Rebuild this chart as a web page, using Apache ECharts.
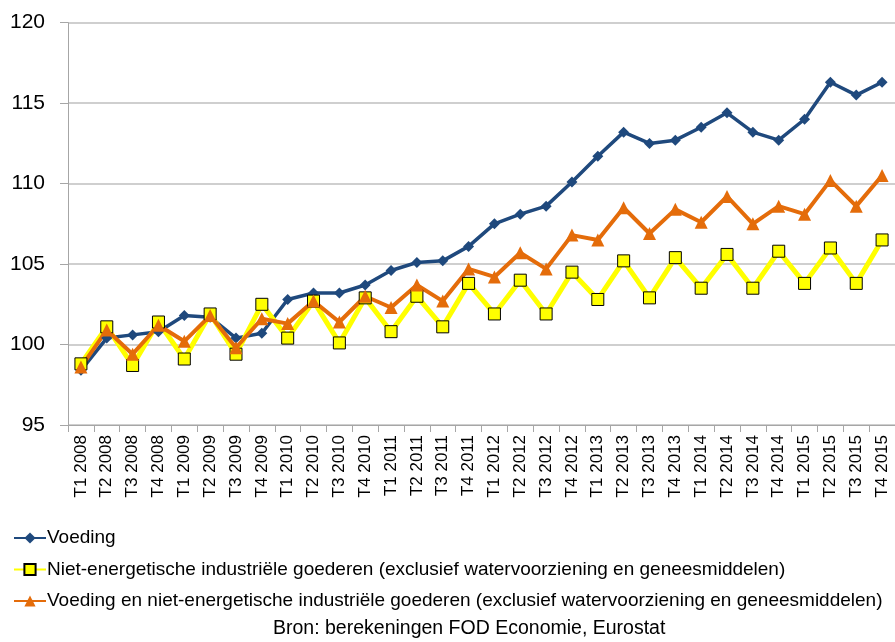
<!DOCTYPE html>
<html>
<head>
    <meta charset="utf-8">
    <title>ECharts</title>
    <script src="https://cdn.jsdelivr.net/npm/echarts@6/dist/echarts.min.js"></script>
    <style>
        html, body { margin: 0; padding: 0; background: #fff; }
    </style>
</head>
<body>
<div id="main" style="width: 895px;height:642px;"></div>
<script type="text/javascript">
    // kwartalen
    var quarters = [
        'T1 2008','T2 2008','T3 2008','T4 2008',
        'T1 2009','T2 2009','T3 2009','T4 2009',
        'T1 2010','T2 2010','T3 2010','T4 2010',
        'T1 2011','T2 2011','T3 2011','T4 2011',
        'T1 2012','T2 2012','T3 2012','T4 2012',
        'T1 2013','T2 2013','T3 2013','T4 2013',
        'T1 2014','T2 2014','T3 2014','T4 2014',
        'T1 2015','T2 2015','T3 2015','T4 2015'
    ];

    var voeding = [
        98.4, 100.4, 100.6, 100.8,
        101.8, 101.7, 100.4, 100.7,
        102.8, 103.2, 103.2, 103.7,
        104.6, 105.1, 105.2, 106.1,
        107.5, 108.1, 108.6, 110.1,
        111.7, 113.2, 112.5, 112.7,
        113.5, 114.4, 113.2, 112.7,
        114.0, 116.3, 115.5, 116.3
    ];

    var nietEnergetisch = [
        98.8, 101.1, 98.7, 101.4,
        99.1, 101.9, 99.4, 102.5,
        100.4, 102.7, 100.1, 102.9,
        100.8, 103.0, 101.1, 103.8,
        101.9, 104.0, 101.9, 104.5,
        102.8, 105.2, 102.9, 105.4,
        103.5, 105.6, 103.5, 105.8,
        103.8, 106.0, 103.8, 106.5
    ];

    var voedingEnNiet = [
        98.6, 100.9, 99.4, 101.2,
        100.2, 101.8, 99.8, 101.6,
        101.3, 102.7, 101.4, 103.0,
        102.3, 103.7, 102.7, 104.7,
        104.2, 105.7, 104.7, 106.8,
        106.5, 108.5, 106.9, 108.4,
        107.6, 109.2, 107.5, 108.6,
        108.1, 110.2, 108.6, 110.5
    ];

    var seriesNames = [
        'Voeding',
        'Niet-energetische industriële goederen (exclusief watervoorziening en geneesmiddelen)',
        'Voeding en niet-energetische industriële goederen (exclusief watervoorziening en geneesmiddelen)'
    ];

    var myChart = echarts.init(document.getElementById('main'));
    var fontFam = 'Liberation Sans, Arial, sans-serif';

    var option = {
        animation: false,
        textStyle: { fontFamily: fontFam },
        title: {
            text: 'Bron: berekeningen FOD Economie, Eurostat',
            left: 273,
            top: 619,
            padding: 0,
            textStyle: { fontSize: 19.5, fontWeight: 'normal', color: '#000', fontFamily: fontFam }
        },
        legend: {
            orient: 'vertical',
            left: 13,
            top: 528,
            padding: 0,
            itemGap: 11.5,
            itemWidth: 32,
            itemHeight: 14,
            selectedMode: false,
            textStyle: { fontSize: 19, color: '#000', lineHeight: 20, padding: [0, 0, 0, -4] },
            data: seriesNames
        },
        grid: {
            left: 68,
            right: -10,
            top: 22.7,
            bottom: 217
        },
        xAxis: {
            type: 'category',
            data: quarters,
            boundaryGap: true,
            axisLine: { lineStyle: { color: '#A6A6A6', width: 1 } },
            axisTick: { show: true, length: 7, lineStyle: { color: '#A6A6A6' } },
            axisLabel: { rotate: 90, fontSize: 17, color: '#000', margin: 10, interval: 0 }
        },
        yAxis: {
            type: 'value',
            min: 95,
            max: 120,
            interval: 5,
            axisLine: { show: true, lineStyle: { color: '#A6A6A6', width: 1 } },
            axisTick: { show: true, length: 8, lineStyle: { color: '#A6A6A6' } },
            axisLabel: { fontSize: 21, color: '#000', margin: 23 },
            splitLine: { lineStyle: { color: '#BFBFBF', width: 1.5 } }
        },
        series: [
            {
                name: seriesNames[0],
                type: 'line',
                data: voeding,
                symbol: 'diamond',
                symbolSize: 11,
                lineStyle: { color: '#1F497D', width: 3.5 },
                itemStyle: { color: '#1F497D' }
            },
            {
                name: seriesNames[1],
                type: 'line',
                data: nietEnergetisch,
                symbol: 'rect',
                symbolSize: 12,
                lineStyle: { color: '#FFFF00', width: 5 },
                itemStyle: { color: '#FFFF00', borderColor: '#000', borderWidth: 1 }
            },
            {
                name: seriesNames[2],
                type: 'line',
                data: voedingEnNiet,
                symbol: 'triangle',
                symbolSize: 13,
                lineStyle: { color: '#E46C0A', width: 4 },
                itemStyle: { color: '#E46C0A' }
            }
        ]
    };

    myChart.setOption(option);
</script>
</body>
</html>
